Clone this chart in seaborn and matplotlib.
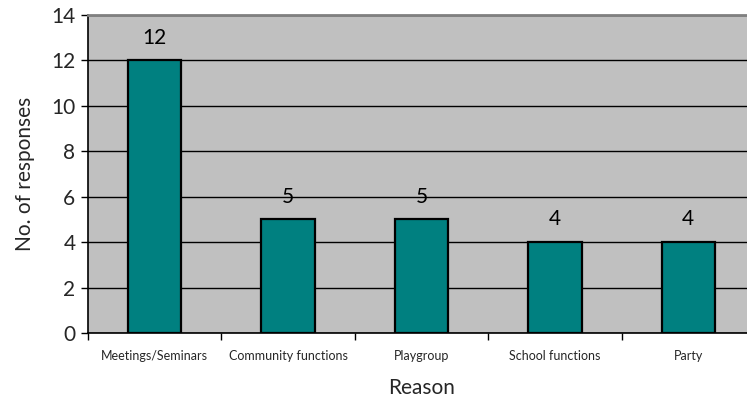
import matplotlib
matplotlib.use("Agg")
import matplotlib.pyplot as plt
import seaborn as sns
import pandas as pd
import numpy as np

reasons = ["Meetings/Seminars", "Community functions", "Playgroup", "School functions", "Party"]
responses = [12, 5, 5, 4, 4]
y_ticks = [0, 2, 4, 6, 8, 10, 12, 14]

sns.set_style("white")
plt.rcParams["font.family"] = ["Lato", "DejaVu Sans"]

df = pd.DataFrame({"Reason": reasons, "Responses": responses})

fig = plt.figure(figsize=(7.47, 4.0), dpi=100)
ax = fig.add_axes([88 / 747, 67 / 400, 667 / 747, 318 / 400])
ax.set_facecolor("#C0C0C0")

sns.barplot(data=df, x="Reason", y="Responses", color="#008080", width=0.4,
            edgecolor="black", linewidth=1.6, saturation=1, ax=ax, zorder=3)

ax.set_ylim(0, 14)
ax.set_xlim(-0.5, len(reasons) - 0.5)
ax.set_yticks(y_ticks)
ax.yaxis.grid(True, color="black", linewidth=1.0, zorder=1)
ax.set_axisbelow(True)

for i, v in enumerate(responses):
    ax.annotate(str(v), (i, v), xytext=(0, 16.5), textcoords="offset points",
                ha="center", va="center", fontsize=15, color="black")

ax.tick_params(axis="y", labelsize=15, length=5, width=1, color="black", left=True, pad=4)
ax.tick_params(axis="x", which="major", length=0, labelsize=9, pad=12)
ax.set_xticks(np.arange(-0.5, len(reasons) + 0.5, 1), minor=True)
ax.tick_params(axis="x", which="minor", length=5, width=1, color="black", bottom=True)

for side in ["left", "bottom"]:
    ax.spines[side].set_color("black")
    ax.spines[side].set_linewidth(1.2)
ax.spines["top"].set_color("#808080")
ax.spines["top"].set_linewidth(2)
ax.spines["right"].set_visible(False)

ax.set_xlabel("Reason", fontsize=15, labelpad=12)
ax.set_ylabel("No. of responses", fontsize=15, labelpad=12)

fig.savefig("out.png", dpi=100)
